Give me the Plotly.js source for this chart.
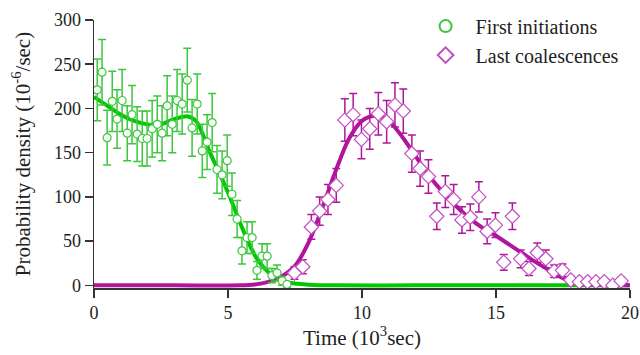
<!DOCTYPE html>
<html>
<head>
<meta charset="utf-8">
<script src="https://cdn.plot.ly/plotly-3.0.1.min.js"></script>
<style>html,body{margin:0;padding:0;background:#fff;}#chart{width:640px;height:355px;}</style>
</head>
<body>
<div id="chart"></div>
<script>
// First initiations (time in 10^3 sec, density in 10^-6/sec)
const firstT = [0.12,0.30,0.49,0.68,0.86,1.05,1.24,1.42,1.61,1.80,1.98,2.17,2.36,2.54,2.73,2.92,3.10,3.29,3.48,3.66,3.85,4.04,4.22,4.41,4.59,4.78,4.97,5.15,5.34,5.52,5.71,5.90,6.08,6.27,6.46,6.64,6.83,7.02,7.20];
const firstV = [221,241,167,208,188,209,172,193,171,166,166,177,182,172,203,182,209,205,232,178,205,152,162,184,131,125,141,103,75,39,54,54,17,33,33,11,14,5,1];
const firstErr = [35,37,31,34,33,35,31,33,31,31,31,32,32,31,34,32,35,34,36,32,34,30,31,33,27,27,29,24,21,15,18,18,10,14,14,8,9,5,3];

// Last coalescences
const lastT = [7.48,7.79,8.11,8.42,8.73,9.04,9.36,9.67,9.98,10.29,10.61,10.92,11.23,11.54,11.86,12.17,12.48,12.79,13.11,13.42,13.73,14.04,14.36,14.67,14.98,15.29,15.61,15.92,16.23,16.54,16.86,17.17,17.48,17.79,18.11,18.42,18.73,19.04,19.36,19.67];
const lastV = [14,21,66,84,97,113,187,193,165,177,194,185,204,197,149,132,123,78,106,97,74,77,100,61,68,26,78,30,19,37,30,16,17,6,4,4,4,4,0,5];
const lastErr = [7,8,14,16,17,19,24,24,22,23,24,24,25,25,21,20,19,15,18,17,15,15,17,14,14,9,15,10,8,11,10,7,7,4,3,3,3,3,0,4];

// Fitted curves
const fitFirstT = [0,0.5,1,1.5,2,2.5,3,3.5,3.8,4.0,4.3,4.6,4.9,5.2,5.5,5.8,6.1,6.4,6.7,7.0,7.5,8.0,9.0,12,16,20];
const fitFirstV = [213,203,193,186,182,182,188,191,186,175,152,132,112,90,67,46,29,18,10,5,2,0.8,0,0,0,0];
const fitLastT = [0,3,5.5,6.0,6.5,7.0,7.5,8.0,8.5,9.0,9.5,10.0,10.5,11.0,11.5,12.0,12.5,13.0,13.5,14.0,14.5,15.0,15.5,16.0,16.5,17.0,17.5,18.0,18.5,19.0,20.0];
const fitLastV = [0,0,0,1,4,10,22,48,86,128,165,186,192,186,168,146,124,106,90,76,65,56,46,36,26,17,8,2.5,1,0.5,0];

const green = '#00c800', greenMk = '#3cc83c';
const mag = '#b0159c', magMk = '#c04ec0';

const traces = [
  {x: fitFirstT, y: fitFirstV, mode: 'lines', line: {color: green, width: 4, shape: 'spline', smoothing: 0.8}, showlegend: false, hoverinfo: 'skip'},
  {x: fitLastT, y: fitLastV, mode: 'lines', line: {color: mag, width: 4, shape: 'spline', smoothing: 0.8}, showlegend: false, hoverinfo: 'skip'},
  {x: firstT, y: firstV, mode: 'markers', name: 'First initiations', legendgroup: 'a',
   marker: {symbol: 'circle', size: 8, color: '#fff', line: {color: greenMk, width: 1.2}},
   error_y: {type: 'data', array: firstErr, visible: true, color: greenMk, thickness: 1.5, width: 4}},
  {x: lastT, y: lastV, mode: 'markers', name: 'Last coalescences', legendgroup: 'b',
   marker: {symbol: 'diamond', size: 11, color: '#fff', line: {color: magMk, width: 1.2}},
   error_y: {type: 'data', array: lastErr, visible: true, color: mag, thickness: 1.5, width: 4}}
];

const serif = 'Liberation Serif';
const axFont = {family: serif, size: 18, color: '#222'};
const titleFont = {family: serif, size: 21, color: '#222'};
const layout = {
  width: 640, height: 355,
  margin: {l: 94, r: 10, t: 20, b: 67, autoexpand: false},
  paper_bgcolor: '#fff', plot_bgcolor: '#fff',
  font: axFont,
  showlegend: true,
  legend: {x: 0.6, y: 1.05, xanchor: 'left', yanchor: 'top', bgcolor: 'rgba(0,0,0,0)',
           font: {family: serif, size: 20, color: '#222'}, itemsizing: 'constant', itemwidth: 50,
           traceorder: 'grouped', tracegroupgap: 0},
  xaxis: {range: [0, 20], tickvals: [0,5,10,15,20], ticks: 'outside', ticklen: 8, tickwidth: 1.5,
          tickcolor: '#333', showline: true, linecolor: '#333', linewidth: 1.5, showgrid: false, zeroline: false,
          tickfont: axFont, title: {text: 'Time (10<sup>3</sup>sec)', font: titleFont, standoff: 7}},
  yaxis: {range: [-3, 300], tickvals: [0,50,100,150,200,250,300], ticks: 'outside', ticklen: 8, tickwidth: 1.5,
          tickcolor: '#333', showline: true, linecolor: '#333', linewidth: 1.5, showgrid: false, zeroline: false,
          tickfont: axFont, title: {text: 'Probability density (10<sup>-6</sup>/sec)', font: titleFont, standoff: 17}}
};

Plotly.newPlot('chart', traces, layout, {staticPlot: true, displayModeBar: false});
</script>
</body>
</html>
